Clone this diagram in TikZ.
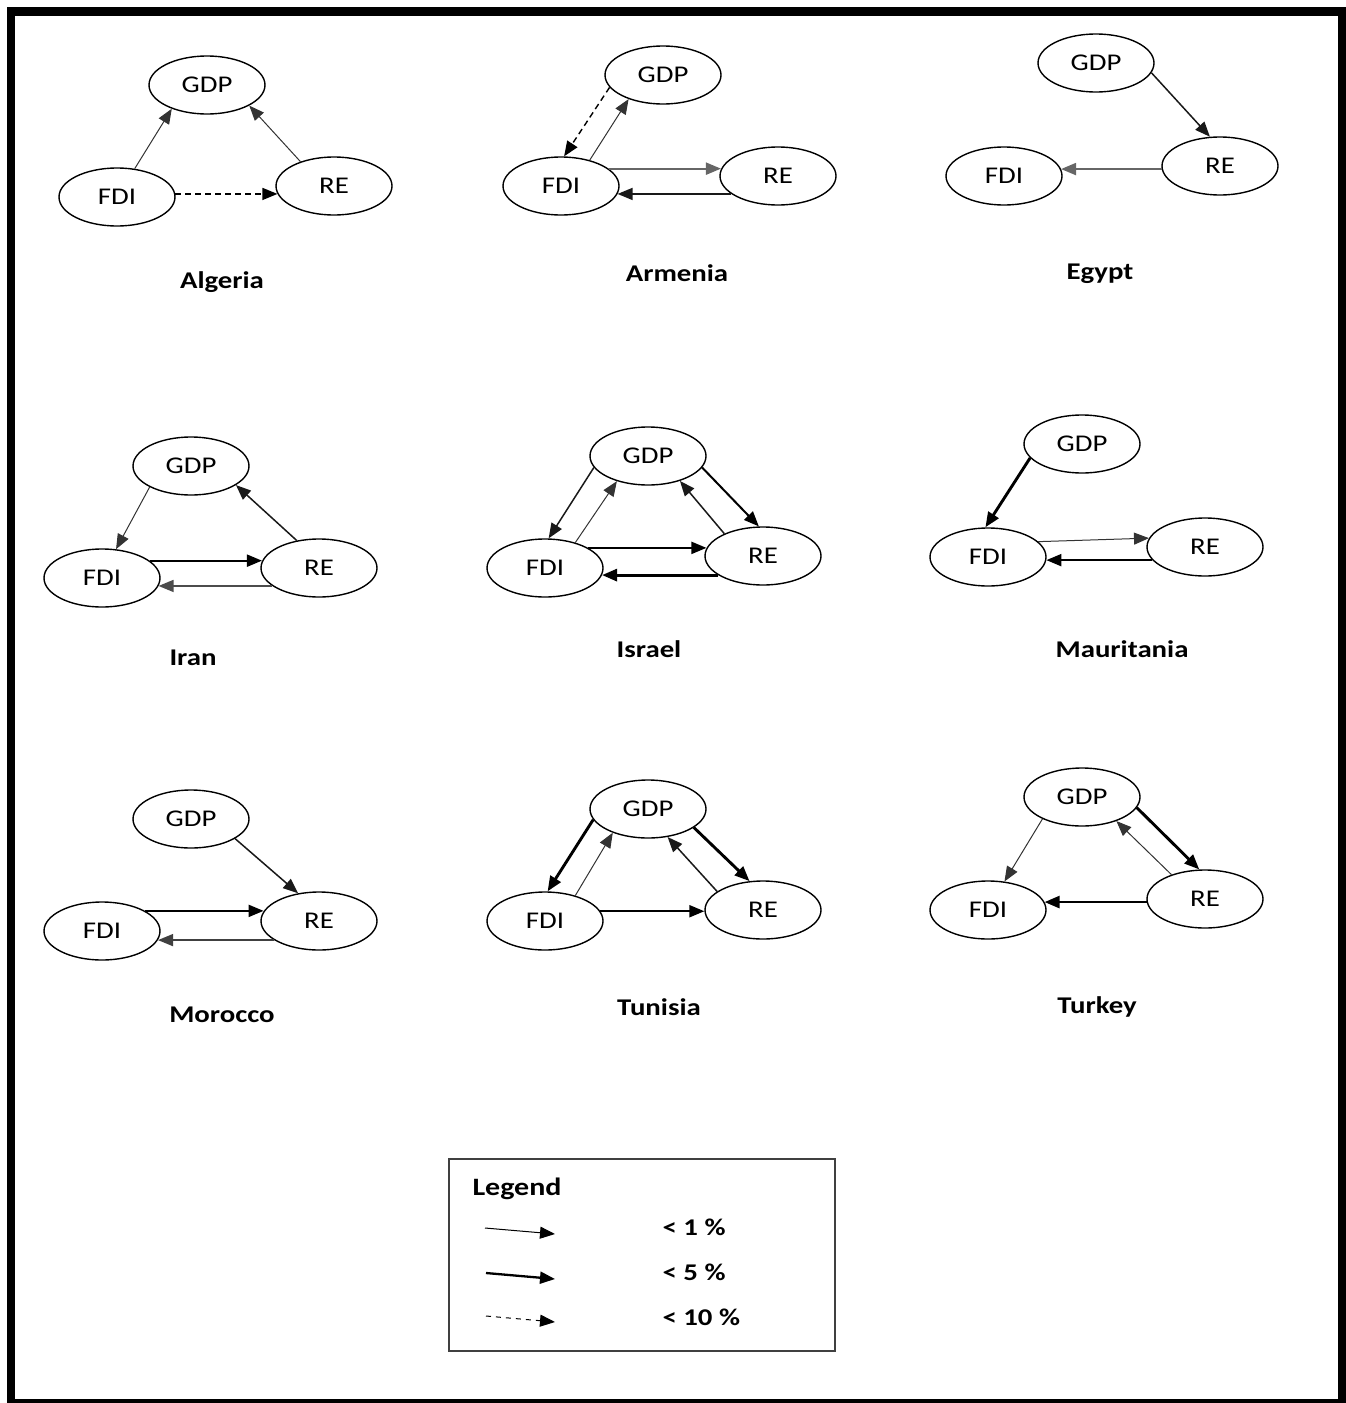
\documentclass[tikz,border=0pt]{standalone}
\usepackage{fontspec}
\setmainfont[FakeStretch=1.2]{Carlito}
\usetikzlibrary{arrows.meta,shapes.geometric}
\tikzset{
  ell/.style={ellipse, draw, line width=1.4pt, minimum width=116pt, minimum height=58pt, inner sep=0pt, font=\fontsize{24}{28}\selectfont},
  lab/.style={anchor=base, font=\fontsize{24}{28}\selectfont\bfseries},
  arr/.style={-{Triangle[length=15pt,width=12pt]}},
  wa/.style={arr, line width=1.0pt, draw=black!80},
  wb/.style={arr, line width=1.5pt, draw=black!90},
  wc/.style={arr, line width=2.0pt, draw=black},
  wd/.style={arr, line width=2.9pt, draw=black},
  wg/.style={arr, line width=2.0pt, draw=black!60},
  wdash/.style={arr, line width=1.4pt, dash pattern=on 6pt off 4pt},
}
\begin{document}
\begin{tikzpicture}[x=1pt,y=-1pt]
\useasboundingbox (0,0) rectangle (1346,1403);
% frame
\fill[black] (7,7) rectangle (1346,16);
\fill[black] (7,7) rectangle (15,1403);
\fill[black] (1338,7) rectangle (1346,1403);
\fill[black] (7,1399) rectangle (1346,1403);

% Algeria
\node[ell] (al-g) at (207,85) {GDP};
\node[ell] (al-f) at (117,197) {FDI};
\node[ell] (al-r) at (334,186) {RE};
\draw[wa] (al-f.58) -- (al-g.214);
\draw[wa] (al-r.144) -- (al-g.-26);
\draw[wdash] (al-f.3) -- (al-f.3 -| al-r.188);
\node[lab] (al-t) at (222,288) {Algeria};

% Armenia
\node[ell] (am-g) at (663,75) {GDP};
\node[ell] (am-f) at (561,186) {FDI};
\node[ell] (am-r) at (778,176) {RE};
\draw[wdash] (am-g.193) -- (am-f.84);
\draw[wa] (am-f.42) -- (am-g.215);
\draw[wg] (am-f.20) -- (am-f.20 -| am-r.173);
\draw[wb] (am-r.201) -- (am-r.201 -| am-f.-8);
\node[lab] (am-t) at (677,281) {Armenia};

% Egypt
\node[ell] (eg-g) at (1096,63) {GDP};
\node[ell] (eg-f) at (1004,176) {FDI};
\node[ell] (eg-r) at (1220,166) {RE};
\draw[wb] (eg-g.-10) -- (eg-r.109);
\draw[wg] (eg-r.183) -- (eg-r.183 -| eg-f.7);
\node[lab] (eg-t) at (1100,279) {Egypt};

% Iran
\node[ell] (ir-g) at (191,466) {GDP};
\node[ell] (ir-f) at (102,578) {FDI};
\node[ell] (ir-r) at (319,568) {RE};
\draw[wa] (ir-g.207) -- (ir-f.64);
\draw[wb] (ir-r.129) -- (ir-g.-23);
\draw[wc] (ir-f.20) -- (ir-f.20 -| ir-r.173);
\draw[wb, draw=black!70] (ir-r.201) -- (ir-r.201 -| ir-f.-8);
\node[lab] (ir-t) at (193,665) {Iran};

% Israel
\node[ell] (is-g) at (648,456) {GDP};
\node[ell] (is-f) at (545,568) {FDI};
\node[ell] (is-r) at (763,556) {RE};
\draw[wb] (is-g.192) -- (is-f.83);
\draw[wa] (is-f.40) -- (is-g.219);
\draw[wc] (is-g.-12) -- (is-r.98);
\draw[wb] (is-r.150) -- (is-g.-38);
\draw[wc] (is-f.25) -- (is-f.25 -| is-r.172);
\draw[wd] (is-r.203) -- (is-r.203 -| is-f.-7);
\node[lab] (is-t) at (649,657) {Israel};

% Mauritania
\node[ell] (ma-g) at (1082,444) {GDP};
\node[ell] (ma-f) at (988,557) {FDI};
\node[ell] (ma-r) at (1205,547) {RE};
\draw[wd] (ma-g.195) -- (ma-f.95);
\draw[wa] (ma-f.17) -- (ma-r.171);
\draw[wc] (ma-r.194) -- (ma-r.194 -| ma-f.-3);
\node[lab] (ma-t) at (1122,657) {Mauritania};

% Morocco
\node[ell] (mo-g) at (191,819) {GDP};
\node[ell] (mo-f) at (102,931) {FDI};
\node[ell] (mo-r) at (319,921) {RE};
\draw[wb] (mo-g.-24) -- (mo-r.127);
\draw[wc] (mo-f.25) -- (mo-f.25 -| mo-r.170);
\draw[wb, draw=black!75] (mo-r.203) -- (mo-r.203 -| mo-f.-9);
\node[lab] (mo-t) at (222,1022) {Morocco};

% Tunisia
\node[ell] (tu-g) at (648,809) {GDP};
\node[ell] (tu-f) at (545,921) {FDI};
\node[ell] (tu-r) at (763,910) {RE};
\draw[wd] (tu-g.191) -- (tu-f.85);
\draw[wa] (tu-f.40) -- (tu-g.214);
\draw[wd] (tu-g.-22) -- (tu-r.115);
\draw[wb] (tu-r.158) -- (tu-g.-55);
\draw[wc] (tu-f.10) -- (tu-f.10 -| tu-r.181);
\node[lab] (tu-t) at (659,1015) {Tunisia};

% Turkey
\node[ell] (tk-g) at (1082,797) {GDP};
\node[ell] (tk-f) at (988,910) {FDI};
\node[ell] (tk-r) at (1205,899) {RE};
\draw[wa] (tk-g.209) -- (tk-f.60);
\draw[wa] (tk-r.144) -- (tk-g.-35);
\draw[wd] (tk-g.-11) -- (tk-r.101);
\draw[wd, line width=2.5pt] (tk-r.183) -- (tk-r.183 -| tk-f.8);
\node[lab] (tk-t) at (1097,1013) {Turkey};

% Legend
\node[draw=black!75, line width=1.6pt, minimum width=386pt, minimum height=192pt, inner sep=0pt] (lgbox) at (642,1255) {};
\node[anchor=base west, font=\fontsize{25}{30}\selectfont\bfseries] (lgtitle) at (469,1195) {Legend};
\coordinate (l1s) at (485,1228); \coordinate (l1e) at (555,1234);
\coordinate (l2s) at (486,1273); \coordinate (l2e) at (555,1279);
\coordinate (l3s) at (486,1316); \coordinate (l3e) at (555,1322);
\draw[wa, draw=black] (l1s) -- (l1e);
\draw[wd, line width=2.3pt] (l2s) -- (l2e);
\draw[arr, line width=1.0pt, dash pattern=on 5pt off 5pt] (l3s) -- (l3e);
\node[anchor=base west, font=\fontsize{24}{28}\selectfont\bfseries] (l1t) at (659,1235) {< 1 \%};
\node[anchor=base west, font=\fontsize{24}{28}\selectfont\bfseries] (l2t) at (659,1280) {< 5 \%};
\node[anchor=base west, font=\fontsize{24}{28}\selectfont\bfseries] (l3t) at (659,1325) {< 10 \%};
\end{tikzpicture}
\end{document}
